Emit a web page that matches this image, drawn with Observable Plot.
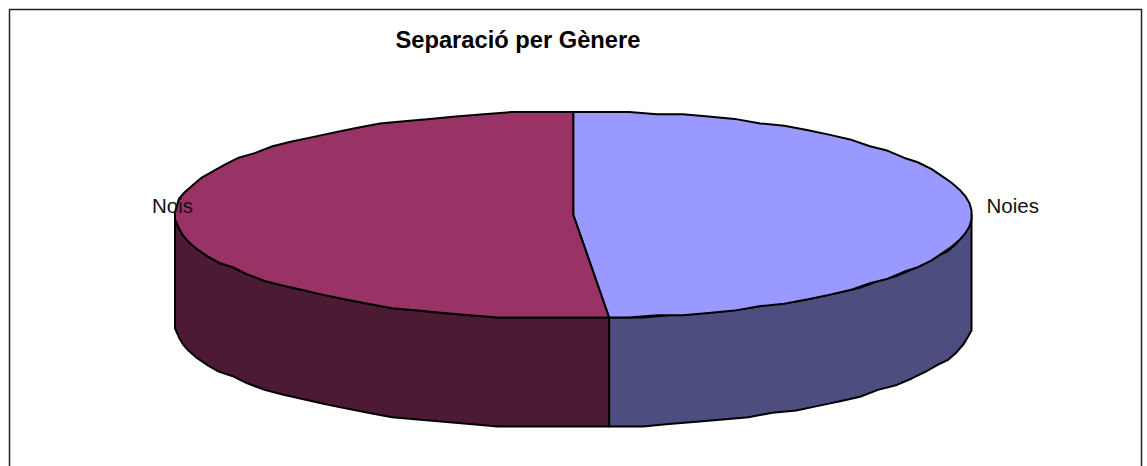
<!DOCTYPE html>
<html>
<head>
<meta charset="utf-8">
<script src="https://cdn.jsdelivr.net/npm/d3@7"></script>
<script src="https://cdn.jsdelivr.net/npm/@observablehq/plot@0.6"></script>
<style>html,body{margin:0;padding:0;background:#fff;overflow:hidden}</style>
</head>
<body>
<div id="chart"></div>
<script>
const chartTitle = "Separació per Gènere";
const sliceLabels = ["Noies", "Nois"];
const sliceValues = [48.6, 51.4];
const topColors = ["#9999ff", "#993366"];
const sideColors = ["#4d4d80", "#4d1a33"];
const pieDepth = 1.05;   // thickness, in units of the top ellipse's vertical radius
const facetDegrees = 4;
const gridX = 0.005;     // the reference's outline is snapped to a fine grid
const gridY = 0.022;

const total = d3.sum(sliceValues);
const rad = d => d * Math.PI / 180;
const splitAngles = [0];
sliceValues.forEach(v => splitAngles.push(splitAngles[splitAngles.length - 1] + v / total * 360));

function arcAngles(a0, a1) {
  const out = [];
  for (let a = a0; a < a1; a += facetDegrees) out.push(a);
  out.push(a1);
  return out;
}
const snap = (v, g) => Math.round(v / g) * g;
const rim = (a, drop = 0) => ({x: snap(Math.sin(rad(a)), gridX), y: snap(Math.cos(rad(a)), gridY) - drop});

const topPolys = [];
const sidePolys = [];
sliceLabels.forEach((label, i) => {
  const a0 = splitAngles[i], a1 = splitAngles[i + 1];
  const pts = [{x: 0, y: 0}, ...arcAngles(a0, a1).map(a => rim(a)), {x: 0, y: 0}];
  pts.forEach(p => topPolys.push({...p, id: label, color: topColors[i]}));
  const s0 = Math.max(a0, 90), s1 = Math.min(a1, 270);
  const front = arcAngles(s0, s1);
  const side = [...front.map(a => rim(a)), ...front.slice().reverse().map(a => rim(a, pieDepth))];
  side.push(side[0]);
  side.forEach(p => sidePolys.push({...p, id: label, color: sideColors[i]}));
});

const labelRows = sliceLabels.map((label, i) => ({
  label,
  x: Math.sign(Math.sin(rad((splitAngles[i] + splitAngles[i + 1]) / 2))),
  y: 0,
  dx: i === 0 ? 15 : -23
}));

const edge = {stroke: "#000", strokeWidth: 2, strokeLinejoin: "round"};
const chart = Plot.plot({
  width: 1147,
  height: 466,
  marginLeft: 9,
  marginTop: 9,
  marginRight: 6,
  marginBottom: -10,
  x: {domain: [-1, 1], range: [174.5, 971], axis: null},
  y: {domain: [-1, 1], range: [318, 110.5], axis: null},
  style: {background: "#fff", fontFamily: "'Liberation Sans', Arial, sans-serif"},
  marks: [
    Plot.frame({stroke: "#222", strokeWidth: 1.5}),
    Plot.line(sidePolys, {x: "x", y: "y", z: "id", fill: "color", curve: "linear", ...edge}),
    Plot.line(topPolys, {x: "x", y: "y", z: "id", fill: "color", curve: "linear", ...edge}),
    Plot.text(labelRows.filter(d => d.dx > 0), {
      x: "x", y: "y", text: "label", dx: 15, dy: -8, textAnchor: "start", fontSize: 20.5, fill: "#111"
    }),
    Plot.text(labelRows.filter(d => d.dx < 0), {
      x: "x", y: "y", text: "label", dx: -23, dy: -8, textAnchor: "start", fontSize: 20.5, fill: "#111"
    }),
    Plot.text([chartTitle], {
      text: d => d, frameAnchor: "top-left", dx: 386, dy: 22, textAnchor: "start",
      lineAnchor: "top", fontSize: 23.7, fontWeight: "bold", fill: "#000"
    })
  ]
});
document.getElementById("chart").appendChild(chart);
</script>
</body>
</html>
